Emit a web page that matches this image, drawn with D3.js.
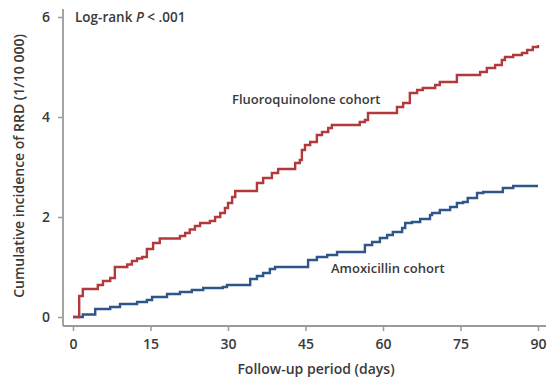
<!DOCTYPE html>
<html>
<head>
<meta charset="utf-8">
<script src="https://cdn.jsdelivr.net/npm/d3@7"></script>
<style>
  body { margin: 0; background: #fff; }
  svg text { font-family: "Open Sans", Lato, sans-serif; font-weight: 600; fill: #3a3a3a; }
</style>
</head>
<body>
<div id="chart"></div>
<script>
// Fluoroquinolone cohort: step times (days) and cumulative incidence (1/10 000)
var fqDays = [0, 1.2, 1.9, 4.8, 5.8, 7.2, 8.1, 10.5, 11.4, 12.4, 13.4, 14.3, 15.5, 16.8,
    20.7, 21.7, 22.6, 23.6, 24.6, 26.5, 27.5, 28.5, 29.4, 30.0, 30.8, 31.4, 35.6, 36.8,
    38.5, 39.7, 43.0, 43.9, 44.3, 44.9, 45.9, 47.2, 48.2, 49.4, 50.1, 55.5, 56.5, 57.1,
    62.7, 63.9, 65.2, 66.6, 67.7, 70.1, 71.0, 74.3, 78.8, 80.1, 81.7, 83.0, 83.6, 85.2,
    86.9, 87.9, 89.0, 90];
var fqVals = [0, 0.42, 0.56, 0.64, 0.72, 0.78, 1.0, 1.05, 1.12, 1.17, 1.2, 1.36, 1.48, 1.57,
    1.62, 1.68, 1.75, 1.82, 1.88, 1.92, 2.0, 2.08, 2.18, 2.28, 2.4, 2.52, 2.68, 2.78,
    2.88, 2.96, 3.08, 3.14, 3.34, 3.44, 3.5, 3.64, 3.7, 3.78, 3.84, 3.9, 3.94, 4.08,
    4.2, 4.28, 4.48, 4.54, 4.58, 4.64, 4.7, 4.84, 4.9, 4.98, 5.04, 5.14, 5.2, 5.24,
    5.28, 5.34, 5.4, 5.44];

// Amoxicillin cohort
var amxDays = [0, 1.9, 4.3, 7.2, 9.1, 12.4, 14.3, 15.3, 18.2, 20.7, 23.0, 25.2, 29.0, 29.8,
    34.3, 35.6, 36.8, 38.1, 39.1, 45.5, 47.2, 49.2, 51.1, 56.5, 57.9, 59.4, 60.8, 61.9,
    63.7, 64.3, 65.6, 67.2, 69.1, 69.5, 71.0, 73.0, 74.3, 75.5, 76.4, 78.2, 79.4, 83.2,
    85.2, 90];
var amxVals = [0, 0.05, 0.16, 0.2, 0.26, 0.3, 0.34, 0.4, 0.46, 0.5, 0.54, 0.58, 0.6, 0.64,
    0.76, 0.82, 0.88, 0.96, 1.0, 1.14, 1.2, 1.24, 1.3, 1.44, 1.5, 1.58, 1.64, 1.7,
    1.78, 1.88, 1.9, 1.96, 2.04, 2.08, 2.14, 2.2, 2.28, 2.3, 2.38, 2.48, 2.5, 2.58,
    2.62, 2.62];

var xTicks = [0, 15, 30, 45, 60, 75, 90];
var yTicks = [0, 2, 4, 6];

var width = 550, height = 378;

var svg = d3.select("#chart").append("svg")
    .attr("width", width)
    .attr("height", height);

var x = d3.scaleLinear().domain([0, 90]).range([73, 538]);
var y = d3.scaleLinear().domain([0, 6]).range([317, 17]);

var axisX = 63, axisY = 326;

// axis lines
svg.append("line")
    .attr("x1", axisX).attr("x2", axisX)
    .attr("y1", 9).attr("y2", axisY)
    .style("stroke", "#9a9a9a").style("stroke-width", 1.8);
svg.append("line")
    .attr("x1", axisX).attr("x2", 546)
    .attr("y1", axisY).attr("y2", axisY)
    .style("stroke", "#9a9a9a").style("stroke-width", 1.8);

var yAxis = d3.axisLeft(y).tickValues(yTicks).tickFormat(d3.format("d"))
    .tickSize(5).tickSizeOuter(0).tickPadding(8);
var xAxis = d3.axisBottom(x).tickValues(xTicks).tickFormat(d3.format("d"))
    .tickSize(5).tickSizeOuter(0).tickPadding(8);

var gy = svg.append("g")
    .attr("transform", "translate(" + axisX + ",0)")
    .call(yAxis);
var gx = svg.append("g")
    .attr("transform", "translate(0," + axisY + ")")
    .call(xAxis);

[gx, gy].forEach(function (g) {
    g.select(".domain").remove();
    g.selectAll(".tick line").style("stroke", "#9a9a9a").style("stroke-width", 1.5);
    g.selectAll(".tick text").style("font-size", "14px").style("fill", "#3a3a3a");
});

// axis titles
svg.append("text")
    .attr("x", 316)
    .attr("y", 374)
    .style("text-anchor", "middle")
    .style("font-size", "14px")
    .text("Follow-up period (days)");

svg.append("text")
    .attr("transform", "translate(24,166) rotate(-90)")
    .style("text-anchor", "middle")
    .style("font-size", "14px")
    .text("Cumulative incidence of RRD (1/10 000)");

// step curves
var line = d3.line()
    .x(function (d) { return x(d[0]); })
    .y(function (d) { return y(d[1]); })
    .curve(d3.curveStepAfter);

svg.append("path")
    .datum(d3.zip(amxDays, amxVals))
    .attr("d", line)
    .style("fill", "none")
    .style("stroke", "#2e5688")
    .style("stroke-width", 2.4);

svg.append("path")
    .datum(d3.zip(fqDays, fqVals))
    .attr("d", line)
    .style("fill", "none")
    .style("stroke", "#b23a3c")
    .style("stroke-width", 2.4);

// annotations
var lr = svg.append("text")
    .attr("x", 75)
    .attr("y", 22)
    .style("font-size", "13.5px");
lr.append("tspan").text("Log-rank ");
lr.append("tspan").style("font-style", "italic").text("P");
lr.append("tspan").text(" < .001");

svg.append("text")
    .attr("x", 232)
    .attr("y", 104)
    .style("font-size", "13px")
    .text("Fluoroquinolone cohort");

svg.append("text")
    .attr("x", 331)
    .attr("y", 273)
    .style("font-size", "13px")
    .text("Amoxicillin cohort");
</script>
</body>
</html>
